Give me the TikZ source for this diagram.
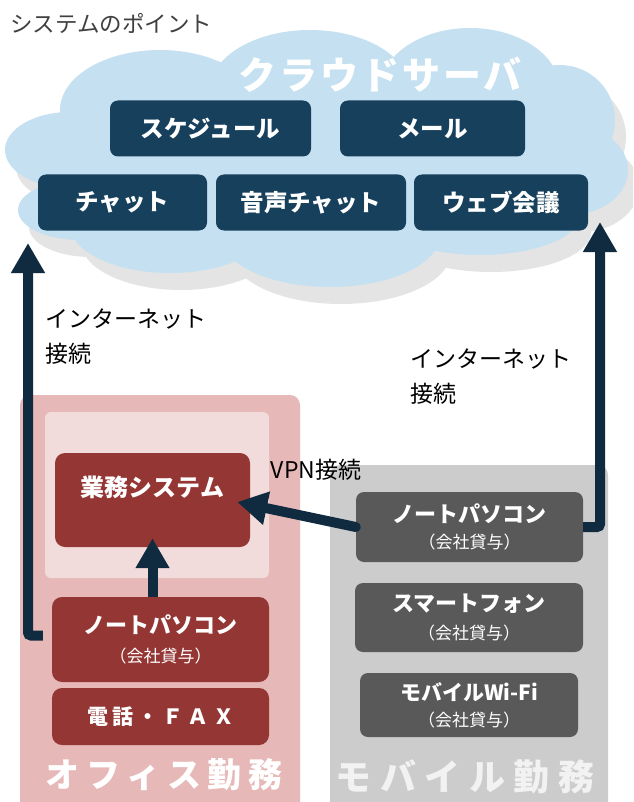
\documentclass[tikz,border=0pt]{standalone}
\usepackage{fontspec}
\setmainfont{Noto Sans CJK JP}
\usetikzlibrary{arrows.meta}
\definecolor{cloudblue}{HTML}{C5E1F1}
\definecolor{cloudshadow}{HTML}{E4E4E4}
\definecolor{navy}{HTML}{17405C}
\definecolor{arrowc}{HTML}{102B3F}
\definecolor{officebg}{HTML}{E6B9B8}
\definecolor{officein}{HTML}{F2DCDB}
\definecolor{officebox}{HTML}{943634}
\definecolor{mobilebg}{HTML}{CCCCCC}
\definecolor{mobilebox}{HTML}{595959}
\definecolor{titlegray}{HTML}{404040}
\begin{document}
\begin{tikzpicture}[x=1pt,y=-1pt,
  cloudbox/.style={fill=navy, rounded corners=8pt, text=white,
    font=\fontsize{23.5}{26}\selectfont\bfseries, inner sep=0pt, minimum height=56pt},
  redbox/.style={fill=officebox, rounded corners=10pt, text=white, inner sep=0pt, align=center},
  graybox/.style={fill=mobilebox, rounded corners=8pt, text=white, inner sep=0pt, align=center},
  panel/.style={rounded corners=10pt},
  lbl/.style={text=black, font=\fontsize{23}{35}\selectfont, inner sep=0pt, align=left},
  arr/.style={draw=arrowc, line width=10pt, rounded corners=3pt,
    -{Triangle[width=32pt,length=30pt]}},
  bigword/.style={text=white, font=\fontsize{34}{36}\selectfont\bfseries\addfontfeature{LetterSpace=20}, inner sep=0pt}
]
\clip (0,0) rectangle (633,802);
\fill[white] (0,0) rectangle (633,802);

% cloud shadow and cloud
\foreach \cx/\cy/\rx/\ry in {320/160/270/90, 160/110/100/60, 310/90/100/60, 470/90/90/62,
  560/120/55/55, 570/170/58/45, 70/150/65/38, 80/210/62/30, 170/225/100/48,
  330/235/110/52, 480/215/100/40}
  {\fill[cloudshadow] ({\cx+11},{\cy+17}) ellipse [x radius=\rx pt, y radius=\ry pt];}
\foreach \cx/\cy/\rx/\ry in {320/160/270/90, 160/110/100/60, 310/90/100/60, 470/90/90/62,
  560/120/55/55, 570/170/58/45, 70/150/65/38, 80/210/62/30, 170/225/100/48,
  330/235/110/52, 480/215/100/40}
  {\fill[cloudblue] (\cx,\cy) ellipse [x radius=\rx pt, y radius=\ry pt];}

\node[anchor=west, inner sep=0pt, text=titlegray, font=\fontsize{22.5}{24}\selectfont] (title) at (10,23) {システムのポイント};
\node[text=white, inner sep=0pt, font=\fontsize{38}{40}\selectfont\bfseries\addfontfeature{LetterSpace=8}] (cloudtitle) at (380,75) {クラウドサーバ};

\node[cloudbox, minimum width=201pt] (sched) at (210.5,128.5) {スケジュール};
\node[cloudbox, minimum width=185pt] (mail) at (432.5,128.5) {メール};
\node[cloudbox, minimum width=169pt] (chat) at (122.5,202.5) {チャット};
\node[cloudbox, minimum width=190pt] (voice) at (311,202.5) {音声チャット};
\node[cloudbox, minimum width=174pt] (web) at (501,202.5) {ウェブ会議};

% panels
\fill[officebg, panel] (20,395) rectangle (300,815);
\fill[officein, rounded corners=6pt] (45,412) rectangle (269,578);
\fill[mobilebg, panel] (330,465) rectangle (608,815);

% office
\node[redbox, minimum width=195pt, minimum height=94pt,
  label={[text=white, inner sep=0pt, font=\fontsize{24}{26}\selectfont\bfseries, yshift=13pt]center:業務システム}]
  (gyomu) at (152.5,500) {};
\node[redbox, minimum width=217pt, minimum height=85pt, font=\fontsize{17}{29}\selectfont]
  (olap) at (160.5,639.5) {{\fontsize{22}{29}\selectfont\bfseries ノートパソコン}\\（会社貸与）};
\node[redbox, minimum width=217pt, minimum height=57pt,
  font=\fontsize{21}{24}\selectfont\bfseries\addfontfeature{LetterSpace=20}]
  (otel) at (160.5,716.5) {電話・ＦＡＸ};
\node[bigword] (officeword) at (164,775) {オフィス勤務};

% mobile
\node[graybox, minimum width=227pt, minimum height=70pt, font=\fontsize{17}{26}\selectfont]
  (mlap) at (469.5,527) {{\fontsize{22}{26}\selectfont\bfseries ノートパソコン}\\（会社貸与）};
\node[graybox, minimum width=228pt, minimum height=69pt, font=\fontsize{17}{28}\selectfont]
  (mphone) at (469,617.5) {{\fontsize{22}{28}\selectfont\bfseries スマートフォン}\\（会社貸与）};
\node[graybox, minimum width=218pt, minimum height=64pt, font=\fontsize{17}{26}\selectfont]
  (mwifi) at (469,705) {{\fontsize{21}{26}\selectfont\bfseries モバイルWi-Fi}\\（会社貸与）};
\node[bigword, text=white!95!black, font=\fontsize{36}{38}\selectfont\bfseries\addfontfeature{LetterSpace=24}]
  (mobileword) at (465,777) {モバイル勤務};

% arrows
\coordinate (lefttip) at (28,243);
\coordinate (righttip) at (600,222);
\draw[arr] ([xshift=-9pt,yshift=4pt]olap.west) -| (lefttip);
\draw[arr] (mlap.east) -| (righttip);
\draw[arr, line cap=round] (mlap.west) -- ([xshift=-13pt,yshift=-2pt]gyomu.east);
\draw[arr] (gyomu.south |- olap.north) -- ([yshift=9pt]gyomu.south);

% labels
\node[lbl, anchor=north west] (netleft) at (45,309) {インターネット\\接続};
\node[lbl, anchor=north west] (netright) at (410,349) {インターネット\\接続};
\node[text=black, inner sep=0pt, font=\fontsize{23}{25}\selectfont] (vpn) at (316,470) {VPN接続};
\end{tikzpicture}
\end{document}
